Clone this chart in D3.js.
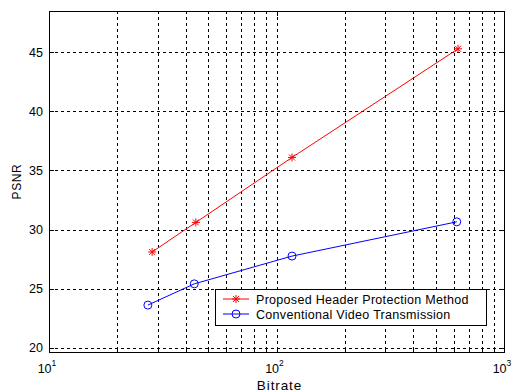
<!DOCTYPE html>
<html>
<head>
<meta charset="utf-8">
<script src="https://cdn.jsdelivr.net/npm/d3@7"></script>
<style>
  body { margin: 0; background: #fff; }
  text { font-family: "Liberation Sans", Arial, sans-serif; font-size: 12px; fill: #000; }
</style>
</head>
<body>
<div id="chart"></div>
<script>
var proposedBitrate = [28.4, 44.2, 117, 628];
var proposedPsnr = [28.1, 30.6, 36.1, 45.3];
var conventionalBitrate = [27.2, 43.5, 117, 620];
var conventionalPsnr = [23.6, 25.4, 27.75, 30.65];
var yTicks = [20, 25, 30, 35, 40, 45];
var xMajor = [10, 100, 1000];
var xMinor = [20, 30, 40, 50, 60, 70, 80, 90, 200, 300, 400, 500, 600, 700, 800, 900];
var seriesNames = ["Proposed Header Protection Method", "Conventional Video Transmission"];

var W = 513, H = 392;
var axLeft = 49, axRight = 504, axTop = 11, axBottom = 352;

var svg = d3.select("#chart").append("svg")
  .attr("width", W)
  .attr("height", H);

var x = d3.scaleLog().domain([10, 1000]).range([axLeft, axRight]);
var y = d3.scaleLinear().domain([19.63, 48.5]).range([axBottom, axTop]);

// grid
var grid = svg.append("g").attr("stroke", "#000").attr("stroke-dasharray", "3,3").attr("stroke-width", 1);
xMajor.concat(xMinor).forEach(function(v) {
  if (v <= 10 || v >= 1000) return;
  grid.append("line")
    .attr("x1", Math.round(x(v)) + 0.5).attr("x2", Math.round(x(v)) + 0.5)
    .attr("y1", axTop).attr("y2", axBottom);
});
yTicks.forEach(function(v) {
  grid.append("line")
    .attr("x1", axLeft).attr("x2", axRight)
    .attr("y1", Math.round(y(v)) + 0.5).attr("y2", Math.round(y(v)) + 0.5);
});

// ticks inside
var ticks = svg.append("g").attr("stroke", "#000");
xMajor.forEach(function(v) {
  var px = Math.round(x(v)) + 0.5;
  ticks.append("line").attr("x1", px).attr("x2", px).attr("y1", axBottom).attr("y2", axBottom - 5);
  ticks.append("line").attr("x1", px).attr("x2", px).attr("y1", axTop).attr("y2", axTop + 5);
});
xMinor.forEach(function(v) {
  var px = Math.round(x(v)) + 0.5;
  ticks.append("line").attr("x1", px).attr("x2", px).attr("y1", axBottom).attr("y2", axBottom - 3);
  ticks.append("line").attr("x1", px).attr("x2", px).attr("y1", axTop).attr("y2", axTop + 3);
});
yTicks.forEach(function(v) {
  var py = Math.round(y(v)) + 0.5;
  ticks.append("line").attr("x1", axLeft).attr("x2", axLeft + 5).attr("y1", py).attr("y2", py);
  ticks.append("line").attr("x1", axRight).attr("x2", axRight - 5).attr("y1", py).attr("y2", py);
});

// box
svg.append("rect")
  .attr("x", axLeft + 0.5).attr("y", axTop + 0.5)
  .attr("width", axRight - axLeft).attr("height", axBottom - axTop)
  .attr("fill", "none").attr("stroke", "#000");

// tick labels
yTicks.forEach(function(v) {
  svg.append("text")
    .attr("x", axLeft - 6).attr("y", y(v) + 4.5)
    .attr("text-anchor", "end")
    .style("font-size", "12.5px")
    .text(v);
});
xMajor.forEach(function(v) {
  var t = svg.append("text")
    .attr("x", x(v) - 2).attr("y", axBottom + 21)
    .attr("text-anchor", "middle")
    .style("font-size", "12.5px");
  t.append("tspan").text("10");
  t.append("tspan").attr("dy", -7).style("font-size", "8.5px").text(Math.round(Math.log10(v)));
});

// axis titles
svg.append("text")
  .attr("x", (axLeft + axRight) / 2 + 3).attr("y", 390)
  .attr("text-anchor", "middle")
  .style("font-size", "13.5px")
  .style("letter-spacing", "0.9px")
  .text("Bitrate");
svg.append("text")
  .attr("transform", "translate(21," + ((axTop + axBottom) / 2) + ") rotate(-90)")
  .attr("text-anchor", "middle")
  .style("font-size", "12px")
  .style("letter-spacing", "0.6px")
  .text("PSNR");

// series
var line = d3.line().x(function(d) { return x(d[0]); }).y(function(d) { return y(d[1]); });
var proposed = d3.zip(proposedBitrate, proposedPsnr);
var conventional = d3.zip(conventionalBitrate, conventionalPsnr);

svg.append("path").datum(proposed).attr("d", line)
  .attr("fill", "none").attr("stroke", "#ff0000").attr("stroke-width", 1);
svg.append("path").datum(conventional).attr("d", line)
  .attr("fill", "none").attr("stroke", "#0000ff").attr("stroke-width", 1);

function star(g, cx, cy) {
  var r = 4;
  g.append("line").attr("x1", cx - r).attr("x2", cx + r).attr("y1", cy).attr("y2", cy);
  g.append("line").attr("x1", cx).attr("x2", cx).attr("y1", cy - r).attr("y2", cy + r);
  g.append("line").attr("x1", cx - 3).attr("x2", cx + 3).attr("y1", cy - 3).attr("y2", cy + 3);
  g.append("line").attr("x1", cx - 3).attr("x2", cx + 3).attr("y1", cy + 3).attr("y2", cy - 3);
}
var stars = svg.append("g").attr("stroke", "#ff0000").attr("stroke-width", 1);
proposed.forEach(function(d) { star(stars, x(d[0]), y(d[1])); });

svg.append("g").selectAll("circle").data(conventional).enter().append("circle")
  .attr("cx", function(d) { return x(d[0]); })
  .attr("cy", function(d) { return y(d[1]); })
  .attr("r", 4)
  .attr("fill", "none").attr("stroke", "#0000ff");

// legend
var lg = svg.append("g");
lg.append("rect")
  .attr("x", 215.5).attr("y", 289.5).attr("width", 271).attr("height", 36)
  .attr("fill", "#fff").attr("stroke", "#000");
[0, 1].forEach(function(i) {
  var ly = 299 + i * 15;
  var col = i === 0 ? "#ff0000" : "#0000ff";
  lg.append("line").attr("x1", 223).attr("x2", 249).attr("y1", ly).attr("y2", ly)
    .attr("stroke", col);
  if (i === 0) {
    star(lg.append("g").attr("stroke", col), 236, ly);
  } else {
    lg.append("circle").attr("cx", 236).attr("cy", ly).attr("r", 4)
      .attr("fill", "none").attr("stroke", col);
  }
  lg.append("text").attr("x", 256).attr("y", ly + 4.5)
    .style("font-size", "12.5px")
    .style("letter-spacing", "0.3px")
    .text(seriesNames[i]);
});
</script>
</body>
</html>
